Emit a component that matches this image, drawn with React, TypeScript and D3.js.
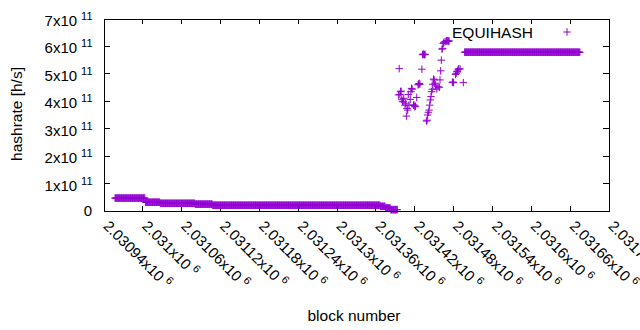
import React from 'react';
import * as d3 from 'd3';

// flat stretches where every block sits on (about) the same value
const runStart = [2030957, 2031004, 2031027, 2031081, 2031108, 2031367, 2031375, 2031383, 2031497];
const runEnd = [2031003, 2031026, 2031080, 2031107, 2031366, 2031374, 2031382, 2031393, 2031675];
const runValue = [0.47e11, 0.32e11, 0.28e11, 0.25e11, 0.21e11, 0.17e11, 0.11e11, 0.05e11, 5.79e11];

// the noisy part after the jump
const scatterBlock = [
  2031395, 2031396, 2031397, 2031398, 2031399, 2031400, 2031401, 2031402, 2031403, 2031405,
  2031406, 2031407, 2031408, 2031409, 2031410, 2031411, 2031413, 2031414, 2031415, 2031416,
  2031418, 2031419, 2031420, 2031421, 2031423, 2031425, 2031426, 2031427, 2031428, 2031431,
  2031432, 2031433, 2031434, 2031435, 2031436, 2031438, 2031439, 2031440, 2031441, 2031442,
  2031443, 2031444, 2031445, 2031446, 2031447, 2031448, 2031449, 2031450, 2031451, 2031452,
  2031454, 2031456, 2031458, 2031459, 2031460, 2031461, 2031462, 2031463, 2031464, 2031465,
  2031467, 2031469, 2031470, 2031471, 2031472, 2031473, 2031478, 2031479, 2031480, 2031483,
  2031484, 2031485, 2031486, 2031487, 2031488, 2031490, 2031495,
];
const scatterValue = [
  4.23, 5.19, 4.25, 4.35, 4.37, 4.07, 4.0, 3.98, 4.11, 3.86,
  3.93, 3.46, 3.74, 3.68, 4.25, 3.86, 4.07, 4.35, 4.47, 4.44,
  3.86, 3.86, 3.8, 3.82, 4.14, 4.6, 4.63, 4.65, 4.62, 5.17,
  5.7, 5.72, 5.71, 5.7, 5.71, 3.28, 3.31, 3.5, 3.6, 3.68,
  3.86, 4.05, 4.17, 4.35, 4.44, 4.62, 4.81, 4.78, 4.66, 4.59,
  4.45, 4.53, 4.51, 4.78, 5.11, 5.5, 5.9, 5.93, 6.11, 6.15,
  6.18, 6.2, 6.21, 6.2, 6.19, 6.2, 4.69, 4.7, 4.68, 4.98,
  5.02, 5.08, 5.1, 5.17, 5.18, 5.18, 4.68,
].map(v => v * 1e11);

const xTicks = [2030940, 2031000, 2031060, 2031120, 2031180, 2031240, 2031300, 2031360, 2031420, 2031480, 2031540, 2031600, 2031660, 2031720];
const xTickLabels = ['2.03094', '2.031', '2.03106', '2.03112', '2.03118', '2.03124', '2.0313', '2.03136', '2.03142', '2.03148', '2.03154', '2.0316', '2.03166', '2.03172'];
const yTicks = [0, 1e11, 2e11, 3e11, 4e11, 5e11, 6e11, 7e11];
const yTickLabels = ['0', '1', '2', '3', '4', '5', '6', '7'];

const color = '#9400d3';
const font = '"Liberation Sans", Arial, sans-serif';

export default function App() {
  const left = 104, right = 609, top = 19, bottom = 211;
  const x = d3.scaleLinear().domain([2030940, 2031720]).range([left, right]);
  const y = d3.scaleLinear().domain([0, 7e11]).range([bottom, top]);

  const points: { b: number; v: number }[] = [];
  runStart.forEach((s, i) => {
    d3.range(s, runEnd[i] + 1).forEach(b => points.push({ b, v: runValue[i] }));
  });
  scatterBlock.forEach((b, i) => points.push({ b, v: scatterValue[i] }));

  const h = 3.75;
  const cross = (cx: number, cy: number) => `M${cx - h},${cy}H${cx + h}M${cx},${cy - h}V${cy + h}`;
  const marks = points.map(p => cross(x(p.b), y(p.v))).join('');

  return (
    <svg width={640} height={330} style={{ position: 'absolute', left: 0, top: 0, background: '#fff' }} fontFamily={font}>
      <rect width={640} height={330} fill="#fff" />
      {/* ticks */}
      <g stroke="#000" strokeWidth={1} shapeRendering="crispEdges">
        {yTicks.map(t => (
          <g key={'y' + t}>
            <line x1={left} x2={left + 6} y1={y(t)} y2={y(t)} />
            <line x1={right} x2={right - 6} y1={y(t)} y2={y(t)} />
          </g>
        ))}
        {xTicks.map(t => (
          <g key={'x' + t}>
            <line x1={x(t)} x2={x(t)} y1={bottom} y2={bottom - 5} />
            <line x1={x(t)} x2={x(t)} y1={top} y2={top + 5} />
          </g>
        ))}
      </g>
      {/* y tick labels */}
      <g fontSize={15} fill="#000">
        {yTicks.map((t, i) =>
          t === 0 ? (
            <text key={t} x={92} y={y(t) + 5} textAnchor="end">{yTickLabels[i]}</text>
          ) : (
            <text key={t} x={92.5} y={y(t) + 7} textAnchor="end">
              {yTickLabels[i]}x10<tspan dx={4} dy={-6} fontSize={11}>11</tspan>
            </text>
          )
        )}
      </g>
      {/* x tick labels */}
      <g fontSize={15} fill="#000">
        {xTicks.map((t, i) => (
          <text key={t} transform={`translate(${x(t) - 1.5},227) rotate(45)`}>
            {xTickLabels[i]}x10<tspan dx={4} dy={-6} fontSize={11}>6</tspan>
          </text>
        ))}
      </g>
      {/* data */}
      <path d={marks} fill="none" stroke={color} strokeWidth={1} />
      {/* frame */}
      <rect x={left} y={top} width={right - left} height={bottom - top} fill="none" stroke="#000" strokeWidth={1} shapeRendering="crispEdges" />
      {/* legend */}
      <text x={533} y={37.5} fontSize={15.5} textAnchor="end" fill="#000">EQUIHASH</text>
      <path d={cross(567, 32)} stroke={color} strokeWidth={1} fill="none" />
      {/* axis titles */}
      <text transform="translate(22,114) rotate(-90)" fontSize={15.5} textAnchor="middle" fill="#000">hashrate [h/s]</text>
      <text x={354} y={321} fontSize={15.5} textAnchor="middle" fill="#000">block number</text>
    </svg>
  );
}
